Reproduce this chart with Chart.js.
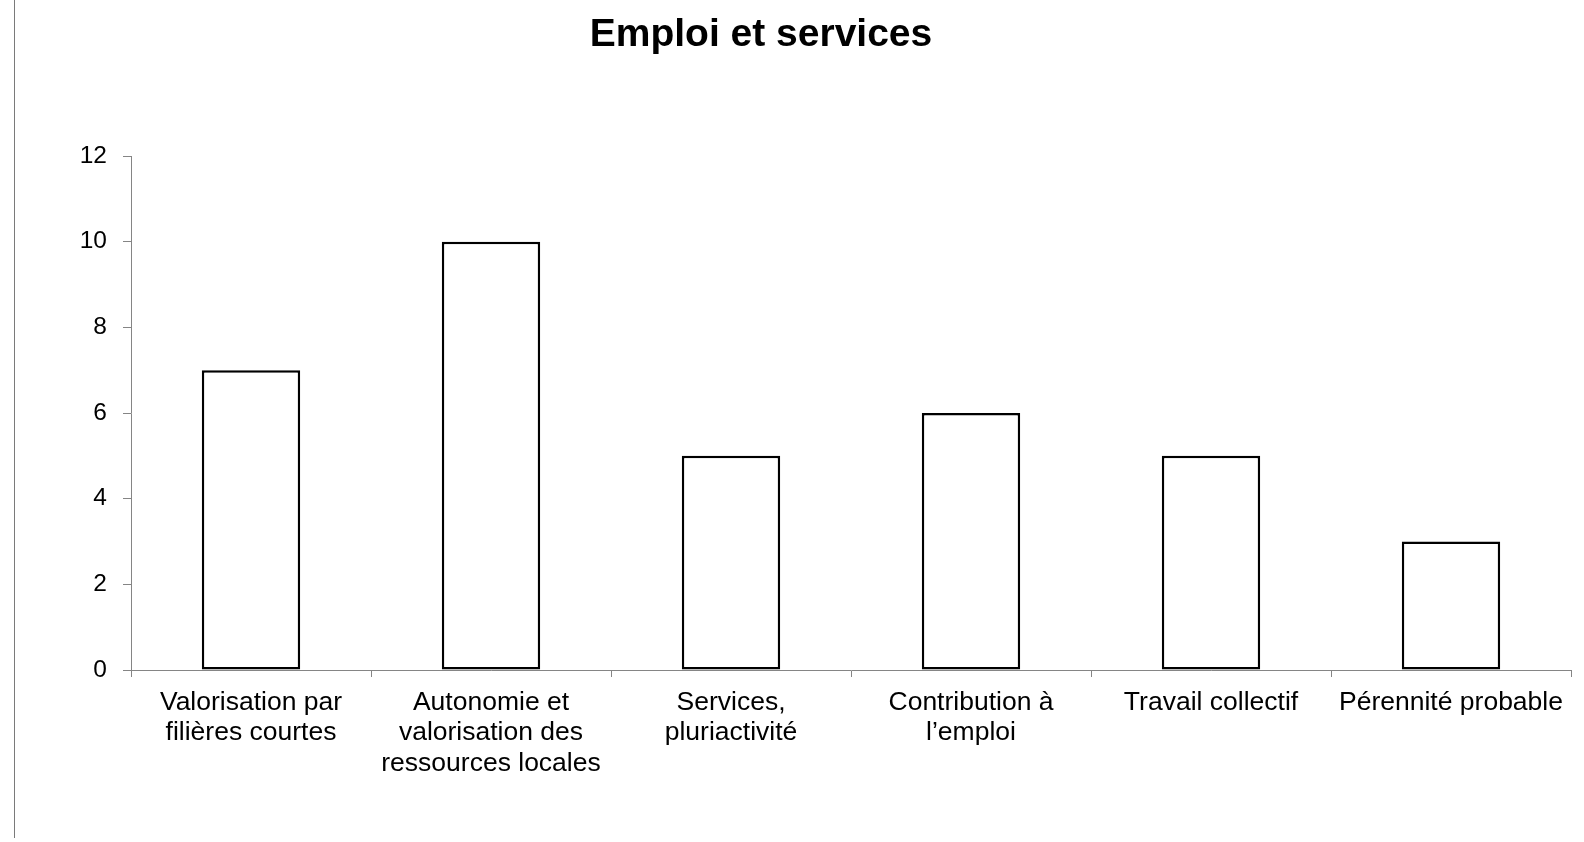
<!DOCTYPE html>
<html lang="fr">
<head>
<meta charset="utf-8">
<title>Emploi et services</title>
<script src="https://cdn.jsdelivr.net/npm/chart.js@4/dist/chart.umd.min.js"></script>
<style>
  html, body { margin: 0; padding: 0; background: #ffffff; }
  #wrap { position: relative; width: 1584px; height: 842px; overflow: hidden; }
  #edge { position: absolute; left: 14px; top: 0; width: 1px; height: 838px; background: #7a7a7a; }
  canvas { position: absolute; left: 0; top: 0; }
</style>
</head>
<body>
<div id="wrap">
  <canvas id="chart" width="1584" height="842"></canvas>
  <div id="edge"></div>
</div>
<script>
// Chart heading
const chartTitle = 'Emploi et services';

// Categories (multi-line labels) and their scores
const categories = [
  ["Valorisation par", "filières courtes"],
  ["Autonomie et", "valorisation des", "ressources locales"],
  ["Services,", "pluriactivité"],
  ["Contribution à", "l\u2019emploi"],
  "Travail collectif",
  "Pérennité probable"
];
const scores = [7, 10, 5, 6, 5, 3];
const yTicks = [0, 2, 4, 6, 8, 10, 12];

const FONT = "'Liberation Sans', Arial, Helvetica, sans-serif";
const AXIS_GREY = '#858585';

// Heading drawn slightly left of the canvas centre, above the plot
const headingPlugin = {
  id: 'heading',
  afterDraw(chart) {
    const ctx = chart.ctx;
    ctx.save();
    ctx.fillStyle = '#000000';
    ctx.font = "bold 39px " + FONT;
    ctx.textAlign = 'center';
    ctx.textBaseline = 'alphabetic';
    ctx.fillText(chartTitle, 761, 46);
    ctx.restore();
  }
};

new Chart(document.getElementById('chart'), {
  type: 'bar',
  data: {
    labels: categories,
    datasets: [{
      data: scores,
      backgroundColor: '#ffffff',
      borderColor: '#000000',
      borderWidth: 2.5,
      borderSkipped: false,
      barPercentage: 0.41,
      categoryPercentage: 1.0
    }]
  },
  options: {
    responsive: false,
    devicePixelRatio: 1,
    animation: false,
    events: [],
    layout: { padding: { top: 156, left: 0, right: 13, bottom: 0 } },
    plugins: {
      legend: { display: false },
      tooltip: { enabled: false },
      title: { display: false }
    },
    scales: {
      x: {
        offset: true,
        grid: {
          offset: true,
          drawOnChartArea: false,
          drawTicks: true,
          tickLength: 7,
          color: AXIS_GREY,
          lineWidth: 1
        },
        border: { display: true, color: AXIS_GREY, width: 1 },
        ticks: {
          color: '#000000',
          font: { family: FONT, size: 26.5, lineHeight: 1.15 },
          padding: 10,
          maxRotation: 0,
          minRotation: 0,
          autoSkip: false
        },
        afterFit(scale) { scale.height = 172; }
      },
      y: {
        min: 0,
        max: 12,
        afterBuildTicks(scale) { scale.ticks = yTicks.map(v => ({ value: v })); },
        grid: {
          drawOnChartArea: false,
          drawTicks: true,
          tickLength: 8,
          color: AXIS_GREY,
          lineWidth: 1
        },
        border: { display: true, color: AXIS_GREY, width: 1 },
        ticks: {
          color: '#000000',
          font: { family: FONT, size: 24.5 },
          padding: 16
        },
        afterFit(scale) { scale.width = 131; }
      }
    }
  },
  plugins: [headingPlugin]
});
</script>
</body>
</html>
